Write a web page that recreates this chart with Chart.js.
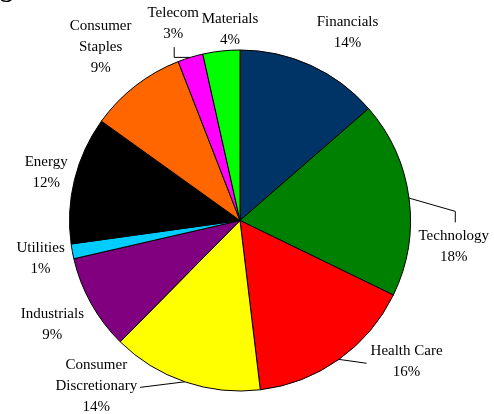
<!DOCTYPE html>
<html>
<head>
<meta charset="utf-8">
<script src="https://cdn.jsdelivr.net/npm/chart.js@4.4.1/dist/chart.umd.min.js"></script>
<style>
  html, body { margin: 0; padding: 0; background: #fff; }
  #wrap { width: 494px; height: 414px; position: relative; overflow: hidden; }
</style>
</head>
<body>
<div id="wrap"><canvas id="sectorChart" width="494" height="414"></canvas></div>
<script>
// data
const sectors = ['Financials', 'Technology', 'Health Care', 'Consumer Discretionary', 'Industrials',
  'Utilities', 'Energy', 'Consumer Staples', 'Telecom', 'Materials'];
const weights = [13.6, 18.6, 15.9, 14.3, 9.0, 1.4, 12.1, 9.2, 2.4, 3.5];
const pctLabels = ['14%', '18%', '16%', '14%', '9%', '1%', '12%', '9%', '3%', '4%'];
const labelNames = [['Financials'], ['Technology'], ['Health Care'], ['Consumer', 'Discretionary'], ['Industrials'],
  ['Utilities'], ['Energy'], ['Consumer', 'Staples'], ['Telecom'], ['Materials']];
const sliceColors = ['#003366', '#008000', '#ff0000', '#ffff00', '#800080',
  '#00ccff', '#000000', '#ff6600', '#ff00ff', '#00ff00'];

// label placement (degrees clockwise from top, distance in radii)
const labelAngle = [29.8, 96.9, 130.3, 220.9, 241.1, 259.1, 283.9, 321.2, 341.3, 357];
const labelDist = [1.269, 1.263, 1.281, 1.287, 1.257, 1.191, 1.171, 1.304, 1.222, 1.123];
const leaderKind = [null, 'top', 'left', 'right', null, null, null, null, 'bottom', null];

const FONT = '15px "Liberation Serif", "Times New Roman", serif';
const LH = 21;

const outsideLabels = {
  id: 'outsideLabels',
  afterDraw(chart) {
    const ctx = chart.ctx;
    const meta = chart.getDatasetMeta(0);
    ctx.save();
    ctx.font = FONT;
    ctx.fillStyle = '#000';
    ctx.strokeStyle = '#000';
    ctx.lineWidth = 1;
    ctx.textAlign = 'center';
    ctx.textBaseline = 'middle';

    meta.data.forEach((arc, i) => {
      const R = arc.outerRadius;
      const a = labelAngle[i] * Math.PI / 180;
      const cx = arc.x + Math.sin(a) * R * labelDist[i];
      const cy = arc.y - Math.cos(a) * R * labelDist[i];
      const lines = labelNames[i].concat([pctLabels[i]]);
      const first = cy - (lines.length - 1) * LH / 2;
      lines.forEach((t, k) => ctx.fillText(t, cx, first + k * LH));

      const kind = leaderKind[i];
      if (!kind) return;
      const mid = (arc.startAngle + arc.endAngle) / 2;
      const ax = arc.x + Math.cos(mid) * R;
      const ay = arc.y + Math.sin(mid) * R;
      ctx.beginPath();
      ctx.moveTo(ax, ay);
      if (kind === 'top') {
        ctx.lineTo(cx + 1.5, cy - 35);
        ctx.lineTo(cx + 1.5, cy - 24);
      } else if (kind === 'left') {
        const w = ctx.measureText(lines[0]).width;
        ctx.lineTo(cx - w / 2 - 4, cy + 1.5);
      } else if (kind === 'right') {
        const w = ctx.measureText(lines[1]).width;
        ctx.lineTo(cx + w / 2 + 3, first + LH + 1);
      } else if (kind === 'bottom') {
        ctx.lineTo(cx + 1, ay);
        ctx.lineTo(cx + 1, cy + 24);
      }
      ctx.stroke();
    });

    // clipped title remnant in the corner
    ctx.font = 'bold 26px "Liberation Serif", serif';
    ctx.textAlign = 'left';
    ctx.textBaseline = 'alphabetic';
    ctx.fillText('g', 0, -3);
    ctx.restore();
  }
};

const ctx = document.getElementById('sectorChart').getContext('2d');
new Chart(ctx, {
  type: 'pie',
  data: {
    labels: sectors,
    datasets: [{
      data: weights,
      backgroundColor: sliceColors,
      borderColor: '#000',
      borderWidth: 1
    }]
  },
  options: {
    responsive: false,
    animation: false,
    layout: { padding: { top: 49, bottom: 22, left: 69, right: 83 } },
    plugins: {
      legend: { display: false },
      tooltip: { enabled: false }
    }
  },
  plugins: [outsideLabels]
});
</script>
</body>
</html>
